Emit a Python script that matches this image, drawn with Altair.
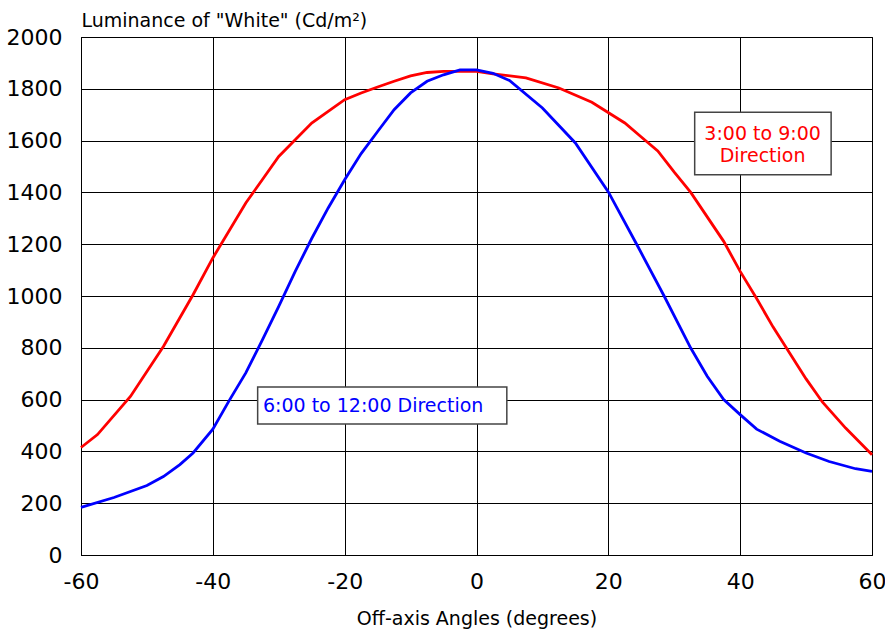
import altair as alt
import pandas as pd

# ---- data ----
red_angle = [-60, -57.5, -52.5, -47.5, -43, -40, -35, -32.5, -30, -27.5, -25, -22.5,
             -20, -17.5, -15, -12.5, -10, -7.5, -5, 0, 2.5, 7.5, 12.5, 17.5, 22.5,
             25, 27.5, 30, 32.5, 37.5, 40, 42.5, 45, 50, 52.5, 56, 60]
red_lum = [415, 465, 612, 805, 1005, 1147, 1359, 1449, 1539, 1603, 1668, 1713,
           1758, 1784, 1807, 1829, 1850, 1863, 1867, 1867, 1858, 1842, 1803, 1748, 1668,
           1614, 1560, 1478, 1400, 1211, 1095, 990, 880, 680, 590, 490, 387]

blue_angle = [-60, -55, -50, -47.5, -45, -43, -40, -37.5, -35, -32.5, -30, -27.5,
              -25, -22.5, -20, -17.5, -15, -12.5, -10, -7.5, -5, -2.5, 0, 2.5, 5,
              10, 15, 20, 24.5, 28.5, 32.5, 35, 37.5, 40, 42.5, 46, 50, 53.5, 57.5, 60]
blue_lum = [184, 222, 268, 303, 349, 394, 486, 597, 703, 830, 960, 1095,
            1222, 1340, 1449, 1550, 1635, 1719, 1784, 1829, 1854, 1873, 1873, 1860, 1832,
            1726, 1591, 1402, 1190, 998, 799, 690, 600, 542, 486, 439, 394, 361, 333, 323]

series_names = ["3:00 to 9:00 Direction", "6:00 to 12:00 Direction"]
series_colors = ["#ff0000", "#0000ff"]

x_ticks = [-60, -40, -20, 0, 20, 40, 60]
y_ticks = [0, 200, 400, 600, 800, 1000, 1200, 1400, 1600, 1800, 2000]

x_title = "Off-axis Angles (degrees)"
y_title = 'Luminance of "White" (Cd/m²)'

# annotation boxes (data coordinates)
box_name = ["red", "blue"]
box_x1 = [33.1, -33.2]
box_x2 = [53.8, 4.6]
box_y1 = [1709, 649]
box_y2 = [1468, 506]

FONT = "DejaVu Sans"

df = pd.concat([
    pd.DataFrame({"angle": red_angle, "lum": red_lum, "series": series_names[0], "order": range(len(red_angle))}),
    pd.DataFrame({"angle": blue_angle, "lum": blue_lum, "series": series_names[1], "order": range(len(blue_angle))}),
])

xs = alt.Scale(domain=[-60, 60], nice=False, zero=False)
ys = alt.Scale(domain=[0, 2000], nice=False)

lines = alt.Chart(df).mark_line(strokeWidth=2.8, interpolate="linear").encode(
    x=alt.X("angle:Q", scale=xs,
            axis=alt.Axis(values=x_ticks, title=x_title, labelExpr="'' + datum.value",
                          titleY=69, titleBaseline="alphabetic",
                          labelPadding=16, tickSize=0, labelFontSize=22,
                          titleFontSize=19, titleFontWeight="normal",
                          grid=True, gridColor="#000", gridWidth=1, gridOpacity=1,
                          domainColor="#000", domainWidth=1, labelColor="#000", titleColor="#000",
                          labelFont=FONT, titleFont=FONT, labelFlush=False)),
    y=alt.Y("lum:Q", scale=ys,
            axis=alt.Axis(values=y_ticks, title=y_title, labelExpr="'' + datum.value",
                          titleAngle=0, titleAlign="left", titleBaseline="alphabetic",
                          titleX=0, titleY=-11,
                          labelPadding=19, tickSize=0, labelFontSize=22,
                          titleFontSize=19, titleFontWeight="normal",
                          grid=True, gridColor="#000", gridWidth=1, gridOpacity=1,
                          domainColor="#000", domainWidth=1, labelColor="#000", titleColor="#000",
                          labelFont=FONT, titleFont=FONT, labelFlush=False)),
    color=alt.Color("series:N", scale=alt.Scale(domain=series_names, range=series_colors), legend=None),
    order="order:Q",
)

boxes_df = pd.DataFrame({"name": box_name, "x1": box_x1, "x2": box_x2, "y1": box_y1, "y2": box_y2})
boxes = alt.Chart(boxes_df).mark_rect(fill="white", stroke="#444", strokeWidth=1.5).encode(
    x=alt.X("x1:Q", scale=xs), x2="x2:Q",
    y=alt.Y("y1:Q", scale=ys), y2="y2:Q",
)

red_text_df = pd.DataFrame({"x": [43.4], "y": [1625], "t": [["3:00 to 9:00", "Direction"]]})
red_text = alt.Chart(red_text_df).mark_text(
    font=FONT, fontSize=19, color="#ff0000", align="center", baseline="middle", lineHeight=22
).encode(x=alt.X("x:Q", scale=xs), y=alt.Y("y:Q", scale=ys), text="t")

blue_text_df = pd.DataFrame({"x": [-32.4], "y": [575], "t": ["6:00 to 12:00 Direction"]})
blue_text = alt.Chart(blue_text_df).mark_text(
    font=FONT, fontSize=19, color="#0000ff", align="left", baseline="middle"
).encode(x=alt.X("x:Q", scale=xs), y=alt.Y("y:Q", scale=ys), text="t:N")

chart = alt.layer(lines, boxes, red_text, blue_text).properties(
    width=791, height=518,
    padding={"left": 81, "top": 37, "right": 13, "bottom": 77},
    autosize=alt.AutoSizeParams(type="none"),
    background="white",
).configure_view(stroke="#000", strokeWidth=1)

chart.save("out.html", embed_options={"renderer": "svg", "actions": False})
